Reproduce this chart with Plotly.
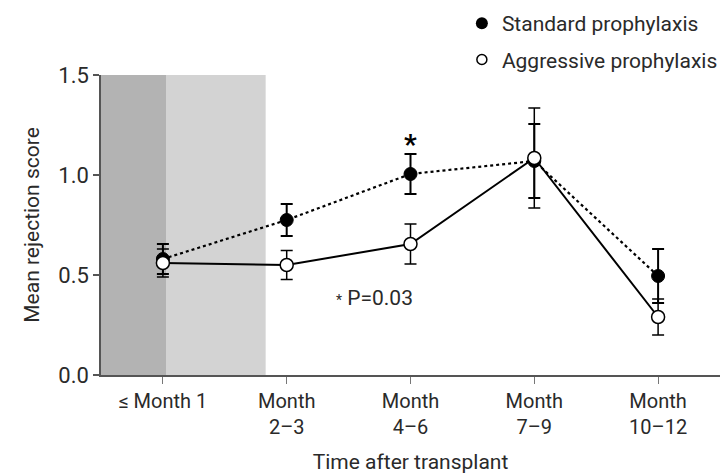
import plotly.graph_objects as go

categories = ["≤ Month 1", "Month<br>2–3", "Month<br>4–6", "Month<br>7–9", "Month<br>10–12"]
x_pos = [0, 1, 2, 3, 4]

standard_mean = [0.58, 0.775, 1.005, 1.07, 0.495]
standard_err = [0.075, 0.08, 0.10, 0.185, 0.135]

aggressive_mean = [0.56, 0.55, 0.655, 1.085, 0.29]
aggressive_err = [0.07, 0.072, 0.10, 0.25, 0.09]

FONT = "Roboto, Liberation Sans, sans-serif"
TXT = "#2a2a2a"

fig = go.Figure()

fig.add_trace(go.Scatter(
    x=x_pos, y=standard_mean, mode="lines+markers",
    line=dict(color="black", width=2.2, dash="dot"),
    marker=dict(symbol="circle", size=13, color="black", line=dict(color="black", width=1)),
    error_y=dict(type="data", array=standard_err, color="black", thickness=2, width=6),
    showlegend=False, cliponaxis=False,
))
fig.add_trace(go.Scatter(
    x=x_pos, y=aggressive_mean, mode="lines+markers",
    line=dict(color="black", width=2),
    marker=dict(symbol="circle", size=13, color="white", line=dict(color="black", width=1.5)),
    error_y=dict(type="data", array=aggressive_err, color="black", thickness=1.5, width=6),
    showlegend=False, cliponaxis=False,
))

# legend-only entries
fig.add_trace(go.Scatter(x=[None], y=[None], mode="markers", name="Standard prophylaxis",
                         legendgroup="a",
                         marker=dict(symbol="circle", size=12, color="black")))
fig.add_trace(go.Scatter(x=[None], y=[None], mode="markers", name="Aggressive prophylaxis",
                         legendgroup="b",
                         marker=dict(symbol="circle-open", size=10, color="black", line=dict(width=1.5))))

fig.add_shape(type="rect", xref="x", yref="y", x0=-0.5, x1=0.025, y0=0, y1=1.5,
              fillcolor="#b3b3b3", line=dict(width=0), layer="below")
fig.add_shape(type="rect", xref="x", yref="y", x0=0.025, x1=0.83, y0=0, y1=1.5,
              fillcolor="#d3d3d3", line=dict(width=0), layer="below")

fig.add_annotation(x=2, y=1.155, text="<b>*</b>", showarrow=False,
                   font=dict(size=28, color="black", family=FONT), yanchor="middle")
fig.add_annotation(x=1.38, y=0.385, text="<span style='font-size:14px'>*</span> P=0.03",
                   showarrow=False, xanchor="left",
                   font=dict(size=21, color=TXT, family=FONT))

# the page body adds an 8px offset, so the figure is 720x468 with margins shifted by 8px
fig.update_layout(
    width=720, height=468,
    margin=dict(l=93, r=8, t=67, b=101, autoexpand=False),
    paper_bgcolor="white", plot_bgcolor="white",
    font=dict(family=FONT, size=20, color=TXT),
    legend=dict(x=0.583, y=1.24, xanchor="left", yanchor="top",
                font=dict(size=21, color=TXT, family=FONT),
                bgcolor="rgba(0,0,0,0)", itemwidth=30, tracegroupgap=6),
    xaxis=dict(
        range=[-0.5, 4.5], tickvals=x_pos, ticktext=categories,
        showgrid=False, zeroline=False, showline=True, linecolor="#555555", linewidth=1.5,
        ticks="outside", ticklen=7, tickcolor="#777777", tickwidth=1,
        tickfont=dict(size=20, color=TXT), automargin=False,
        title=dict(text="Time after transplant", font=dict(size=21, color=TXT), standoff=17),
    ),
    yaxis=dict(
        range=[0, 1.5], tickvals=[0, 0.5, 1.0, 1.5], tickformat=".1f",
        showgrid=False, zeroline=False, showline=True, linecolor="#555555", linewidth=1.5,
        ticks="outside", ticklen=6, tickcolor="#555555", tickwidth=1.5,
        tickfont=dict(size=22, color=TXT), automargin=False,
        title=dict(text="Mean rejection score", font=dict(size=21, color=TXT), standoff=13),
    ),
)

fig.write_html("out.html")
